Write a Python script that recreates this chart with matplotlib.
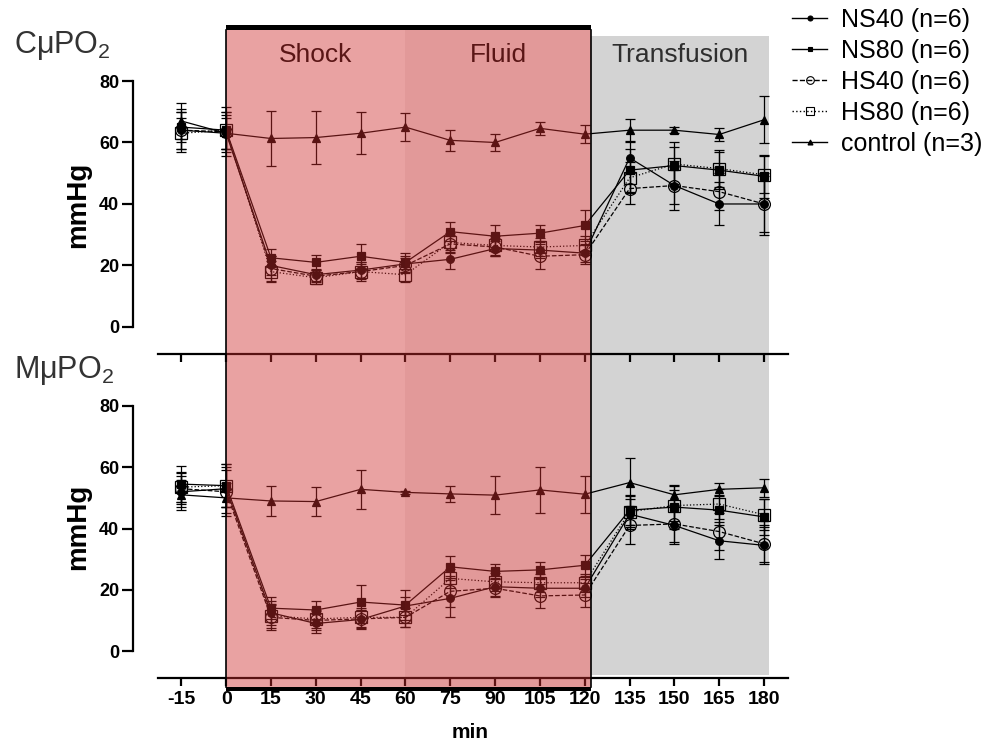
import matplotlib
matplotlib.use("Agg")
import matplotlib.pyplot as plt
import matplotlib.patches as patches
import matplotlib.transforms as transforms
from matplotlib.lines import Line2D

plt.rcParams["font.family"] = ["Liberation Sans", "DejaVu Sans"]
plt.rcParams["mathtext.default"] = "regular"
plt.rcParams["axes.unicode_minus"] = False

# [DATA]
minutes = [-15, 0, 15, 30, 45, 60, 75, 90, 105, 120, 135, 150, 165, 180]
labels = ["NS40 (n=6)", "NS80 (n=6)", "HS40 (n=6)", "HS80 (n=6)", "control (n=3)"]

# CuPO2 (top panel)
c_ns40 = [64, 63, 20, 17, 18.5, 20.5, 22, 25.5, 25, 24, 55, 46, 40, 40]
c_ns80 = [65, 64, 22.5, 21, 23, 21, 31, 29.5, 30.5, 33, 51, 52.5, 51, 49]
c_hs40 = [64, 63.5, 19, 16.5, 18, 20, 27, 26, 23, 23.5, 45, 46, 44, 40]
c_hs80 = [63, 64, 18, 16, 18, 17, 27.5, 26.5, 26, 26.5, 48.5, 53, 51.5, 49.5]
c_ctrl = [67, 63, 61.3, 61.6, 63, 65, 60.7, 60, 64.6, 62.7, 64, 64, 62.6, 67.4]
c_ns40_err = [6, 5, 3, 2, 2.5, 2.5, 3, 2.5, 2.5, 3, 5, 8, 7, 10]
c_ns80_err = [5, 6, 3, 2.5, 4, 3, 3, 3.5, 2.5, 5, 7, 6, 6, 7]
c_hs40_err = [7, 8, 4, 2, 2.5, 2.5, 3, 3, 4, 3, 5, 6, 6, 9]
c_hs80_err = [5, 6, 3.5, 2, 3, 2.5, 3, 3, 3, 3, 5, 7, 6, 6]
c_ctrl_err = [6, 6, 9, 8.5, 6.8, 4.6, 3.4, 2.7, 2.2, 3, 3.6, 1, 2, 7.6]

# MuPO2 (bottom panel)
m_ns40 = [52, 53, 12.5, 9, 10.3, 14.7, 17.2, 21, 20.5, 20.5, 44.7, 41, 36, 34.5]
m_ns80 = [54.5, 54, 14, 13.4, 16, 15, 27.5, 26, 26.5, 28, 46, 47, 46, 43.8]
m_hs40 = [53, 52, 11, 10, 10.5, 11, 19.5, 20.5, 18, 18.3, 41, 41.5, 39, 35]
m_hs80 = [53.5, 54, 11.5, 10.5, 11, 11, 23.7, 22.6, 22.3, 22.3, 45.5, 47.5, 48, 44.5]
m_ctrl = [51, 50, 49, 48.8, 52.8, 51.8, 51.3, 50.9, 52.6, 51.2, 55, 51, 52.8, 53.3]
m_ns40_err = [5, 6, 4, 3, 3, 3, 6, 3, 3, 3, 5, 6, 6, 6]
m_ns80_err = [6, 7, 3.5, 3, 5.4, 5, 3.5, 2.5, 2.5, 3.5, 5, 7, 5, 6]
m_hs40_err = [5, 8, 4, 3, 3, 3, 5, 3, 4, 4, 6, 6, 6, 6]
m_hs80_err = [5, 7, 4, 3, 3, 3, 3, 3, 3, 3, 5, 5, 5, 5]
m_ctrl_err = [5, 5, 5, 4.8, 6.3, 0.5, 2.6, 6.3, 7.4, 6, 8, 3.3, 2.2, 3]

phase_names = ["Shock", "Fluid", "Transfusion"]
phase_edges = [0, 60, 122, 181.5]

# [STYLE]
styles = [
    dict(ls="-", marker="o", mfc="black", ms=5.5),
    dict(ls="-", marker="s", mfc="black", ms=5.5),
    dict(ls="--", marker="o", mfc="none", ms=8.5),
    dict(ls=":", marker="s", mfc="none", ms=8),
    dict(ls="-", marker="^", mfc="black", ms=5.5),
]

W, H = 996, 741
fig = plt.figure(figsize=(W / 100, H / 100), dpi=100)


def fx(px):
    return px / W


def fy(py):
    return 1 - py / H


ax_top = fig.add_axes([fx(158), fy(354), fx(788 - 158), (354 - 81) / H])
ax_bot = fig.add_axes([fx(158), fy(678), fx(788 - 158), (678 - 406) / H])

panels = [
    (ax_top, [c_ns40, c_ns80, c_hs40, c_hs80, c_ctrl],
     [c_ns40_err, c_ns80_err, c_hs40_err, c_hs80_err, c_ctrl_err], "CμPO$_2$", 45, 205),
    (ax_bot, [m_ns40, m_ns80, m_hs40, m_hs80, m_ctrl],
     [m_ns40_err, m_ns80_err, m_hs40_err, m_hs80_err, m_ctrl_err], "MμPO$_2$", 370, 527),
]

for ax, series, errs, title, title_y, ylab_y in panels:
    ax.set_facecolor("none")
    ax.set_xlim(-22.8, 188)
    ax.set_ylim(-8.8, 80)
    for vals, err, st in zip(series, errs, styles):
        ax.errorbar(minutes, vals, yerr=err, color="black", ecolor="black",
                    elinewidth=0.9, capsize=3.5, capthick=0.9, lw=0.9,
                    ls=st["ls"], marker=st["marker"], mfc=st["mfc"],
                    mec="black", mew=0.9, ms=st["ms"], clip_on=False)
    ax.spines[["top", "right"]].set_visible(False)
    ax.spines["left"].set_bounds(0, 80)
    ax.spines["left"].set_position(("outward", 18))
    ax.spines["left"].set_linewidth(1.6)
    ax.spines["bottom"].set_linewidth(1.6)
    ax.set_xticks(minutes)
    ax.set_yticks([0, 20, 40, 60, 80])
    ax.tick_params(axis="y", length=8, width=1.6, labelsize=13, pad=2)
    ax.tick_params(axis="x", length=6, width=1.6, labelsize=14, pad=3)
    for lab in ax.get_yticklabels() + ax.get_xticklabels():
        lab.set_fontweight("bold")
    fig.text(fx(78), fy(ylab_y), "mmHg", rotation=90, ha="center", va="center",
             fontsize=20, fontweight="bold")
    fig.text(fx(14), fy(title_y), title, ha="left", va="center", fontsize=22,
             color="#333333")

ax_top.tick_params(axis="x", labelbottom=False)
fig.text(fx(470), fy(732), "min", ha="center", va="center", fontsize=15,
         fontweight="bold")

# shaded phases spanning both panels
trans = transforms.blended_transform_factory(ax_top.transData, fig.transFigure)
red_top, red_bot = 30, 687
shade = [((205 / 255, 45 / 255, 45 / 255), 0.44), ((195 / 255, 42 / 255, 42 / 255), 0.48)]
for i, (col, a) in enumerate(shade):
    r = patches.Rectangle((phase_edges[i], fy(red_bot)), phase_edges[i + 1] - phase_edges[i],
                          (red_bot - red_top) / H, transform=trans, facecolor=col,
                          alpha=a, edgecolor="none", zorder=5)
    fig.add_artist(r)
gray = patches.Rectangle((phase_edges[2], fy(675)), phase_edges[3] - phase_edges[2],
                         (675 - 36) / H, transform=trans, facecolor="#d3d3d3",
                         edgecolor="none", zorder=-1)
fig.add_artist(gray)

# black frame bits of the shock/fluid block
fig.add_artist(patches.Rectangle((phase_edges[0], fy(red_top)), phase_edges[2] - phase_edges[0],
                                 5 / H, transform=trans, facecolor="black", zorder=6))
fig.add_artist(patches.Rectangle((phase_edges[0], fy(691)), phase_edges[2] - phase_edges[0],
                                 4 / H, transform=trans, facecolor="black", zorder=6))
for xe in (phase_edges[0], phase_edges[2]):
    fig.add_artist(Line2D([xe, xe], [fy(red_bot), fy(red_top)], transform=trans,
                          color="black", lw=1.2, zorder=6))

phase_colors = ["#5a1616", "#5a1616", "#2e2e2e"]
for i, name in enumerate(phase_names):
    mid = (phase_edges[i] + phase_edges[i + 1]) / 2
    fig.text(mid, fy(55), name, transform=trans, ha="center", va="center",
             fontsize=19, color=phase_colors[i], zorder=7)

handles = [Line2D([], [], color="black", lw=1, ls=st["ls"], marker=st["marker"],
                  mfc=st["mfc"], mec="black", mew=0.8, ms=st["ms"] * 0.65)
           for st in styles]
fig.legend(handles, labels, loc="upper left", bbox_to_anchor=(fx(792), fy(8)),
           frameon=False, fontsize=18, handlelength=1.4, handletextpad=0.55,
           labelspacing=0.28, borderaxespad=0, borderpad=0)

fig.savefig("out.png", dpi=100)
